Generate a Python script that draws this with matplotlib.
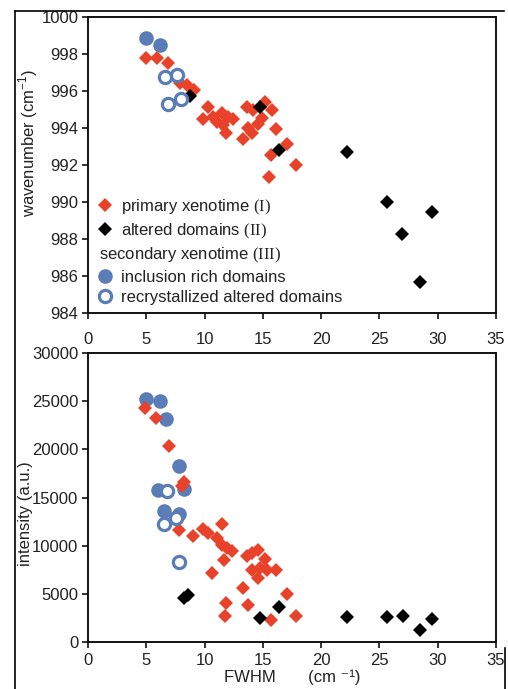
import matplotlib
matplotlib.use("Agg")
import matplotlib.pyplot as plt
from matplotlib.lines import Line2D

plt.rcParams['font.family'] = ['Liberation Sans', 'DejaVu Sans']
plt.rcParams['mathtext.fontset'] = 'custom'
plt.rcParams['mathtext.rm'] = 'Liberation Serif'
plt.rcParams['mathtext.sf'] = 'Liberation Sans'

RED = '#e8432a'
BLUE = '#5a7db8'
BLACK = '#000000'

# ---- Raman band position vs FWHM ----
wn_primary_fwhm = [4.95, 5.89, 6.89, 7.89, 8.46, 9.09, 10.27, 9.89, 10.75, 11.47, 12.04,
                   12.47, 11.61, 11.81, 11.09, 13.61, 14.18, 15.18, 15.76, 14.90, 14.61,
                   13.75, 14.04, 13.33, 16.13, 17.04, 15.67, 17.82, 15.56]
wn_primary_pos = [997.77, 997.77, 997.50, 996.41, 996.32, 996.05, 995.12, 994.49, 994.58,
                  994.79, 994.61, 994.47, 994.16, 993.71, 994.34, 995.12, 994.97, 995.42,
                  994.97, 994.52, 994.22, 993.98, 993.75, 993.39, 993.93, 993.14, 992.52,
                  991.98, 991.37]
wn_altered_fwhm = [8.75, 14.75, 16.41, 22.19, 25.62, 29.54, 26.97, 28.48]
wn_altered_pos = [995.75, 995.15, 992.81, 992.69, 989.98, 989.46, 988.27, 985.69]
wn_inclusion_fwhm = [4.98, 6.18]
wn_inclusion_pos = [998.85, 998.49]
wn_recryst_fwhm = [6.61, 7.61, 6.89, 7.95]
wn_recryst_pos = [996.74, 996.86, 995.30, 995.55]

# ---- Raman band intensity vs FWHM ----
int_primary_fwhm = [4.92, 5.83, 6.98, 8.26, 8.03, 7.78, 9.04, 9.89, 10.32, 11.47, 11.04,
                    11.47, 11.90, 12.33, 11.67, 10.61, 13.61, 14.04, 14.61, 15.18, 14.04,
                    14.75, 15.33, 16.13, 14.61, 13.33, 17.04, 11.81, 13.70, 11.75, 15.67,
                    17.82]
int_primary_val = [24300, 23300, 20300, 16600, 16200, 11600, 11000, 11700, 11300, 12200,
                   10800, 10100, 9750, 9400, 8550, 7150, 8950, 9250, 9600, 8600, 7500,
                   7700, 7500, 7450, 6650, 5600, 5000, 4100, 3850, 2750, 2300, 2750]
int_altered_fwhm = [8.24, 8.61, 14.75, 16.41, 22.19, 25.68, 26.99, 29.54, 28.48]
int_altered_val = [4600, 4900, 2450, 3600, 2550, 2550, 2750, 2350, 1250]
int_inclusion_fwhm = [4.98, 6.18, 6.69, 7.84, 6.03, 8.26, 6.52, 7.84]
int_inclusion_val = [25250, 25000, 23200, 18300, 15800, 15900, 13650, 13300]
int_recryst_fwhm = [6.81, 6.55, 7.55, 7.84]
int_recryst_val = [15650, 12250, 12900, 8300]

x_ticks = [0, 5, 10, 15, 20, 25, 30, 35]
wn_ticks = [984, 986, 988, 990, 992, 994, 996, 998, 1000]
int_ticks = [0, 5000, 10000, 15000, 20000, 25000, 30000]

labels = ['primary xenotime $\\mathrm{(I)}$',
          'altered domains $\\mathrm{(II)}$',
          'secondary xenotime $\\mathrm{(III)}$',
          'inclusion rich domains',
          'recrystallized altered domains']

DIA = dict(marker='D', ms=7.3, ls='none', mew=0)
CIR = dict(marker='o', ms=10.5, ls='none', mew=0)
OPN = dict(marker='o', ms=8.8, ls='none', mfc='white', mec=BLUE, mew=2.3)

fig = plt.figure(figsize=(5.08, 6.89), dpi=100)
ax1 = fig.add_axes([0.1732, 0.5457, 0.8031, 0.4296])
ax2 = fig.add_axes([0.1732, 0.0682, 0.8031, 0.4194])


def draw(ax, pf, pv, af, av, inf, inv, rf, rv):
    ax.plot(inf, inv, color=BLUE, zorder=2, **CIR)
    ax.plot(pf, pv, color=RED, zorder=3, **DIA)
    ax.plot(af, av, color=BLACK, zorder=4, **DIA)
    ax.plot(rf, rv, zorder=5, **OPN)
    ax.set_xlim(0, 35)
    ax.set_xticks(x_ticks)
    for s in ax.spines.values():
        s.set_linewidth(1.4)
        s.set_color('#111111')
    ax.tick_params(direction='out', length=4, width=1.2, labelsize=12,
                   colors='#111111', labelcolor='#222222')


draw(ax1, wn_primary_fwhm, wn_primary_pos, wn_altered_fwhm, wn_altered_pos,
     wn_inclusion_fwhm, wn_inclusion_pos, wn_recryst_fwhm, wn_recryst_pos)
ax1.set_ylim(984, 1000)
ax1.set_yticks(wn_ticks)
ax1.tick_params(axis='x', pad=10)
ax1.tick_params(axis='y', pad=3)
ax1.set_ylabel('wavenumber (cm$^{\\mathsf{-1}}$)', fontsize=12, color='#222222')
ax1.yaxis.set_label_coords(-0.118, 0.575)

draw(ax2, int_primary_fwhm, int_primary_val, int_altered_fwhm, int_altered_val,
     int_inclusion_fwhm, int_inclusion_val, int_recryst_fwhm, int_recryst_val)
ax2.set_ylim(0, 30000)
ax2.set_yticks(int_ticks)
ax2.tick_params(axis='x', pad=4)
ax2.tick_params(axis='y', pad=3)
ax2.set_ylabel('intensity (a.u.)', fontsize=12, color='#222222')
ax2.yaxis.set_label_coords(-0.135, 0.443)
ax2.set_xlabel('FWHM       (cm \u207b\u00b9)', fontsize=12, color='#222222',
               labelpad=1)

handles = [Line2D([], [], color=RED, **DIA),
           Line2D([], [], color=BLACK, **DIA),
           Line2D([], [], ls='none', marker=None),
           Line2D([], [], color=BLUE, **CIR),
           Line2D([], [], **OPN)]
leg = ax1.legend(handles, labels, loc='lower left', bbox_to_anchor=(0.021, 0.027),
                 frameon=False, fontsize=12, handlelength=1.0, handletextpad=0.45,
                 labelspacing=0.3, borderpad=0, borderaxespad=0)
for t in leg.get_texts():
    t.set_color('#222222')
leg.get_texts()[2].set_x(-22)

# page frame lines
fig.add_artist(Line2D([15 / 508, 504 / 508], [1 - 11 / 689, 1 - 11 / 689],
                      transform=fig.transFigure, color='black', lw=1.2))
fig.add_artist(Line2D([15 / 508, 15 / 508], [1 - 11 / 689, 0],
                      transform=fig.transFigure, color='black', lw=1.2))
fig.add_artist(Line2D([505 / 508, 505 / 508], [1 - 648 / 689, 0],
                      transform=fig.transFigure, color='black', lw=1.2))

fig.savefig('out.png', dpi=100)
